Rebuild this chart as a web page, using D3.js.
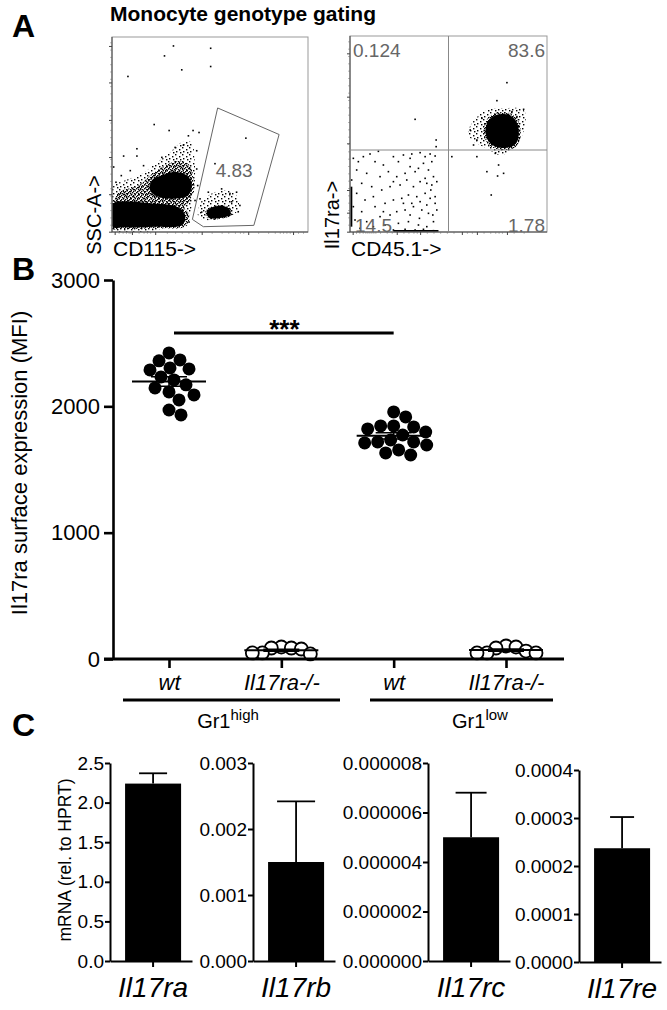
<!DOCTYPE html>
<html lang="en">
<head>
<meta charset="UTF-8">
<title>Il17ra on monocytes</title>
<style>
body { margin: 0; background: #fff; }
svg { display: block; font-family: "Liberation Sans", Arial, sans-serif; }
.flow-num { fill: #666; font-size: 19px; }
.panel { font-weight: bold; font-size: 32px; }
</style>
</head>
<body>
<svg width="667" height="1010"></svg>
<script src="https://d3js.org/d3.v7.min.js"></script>
<script>

// ---------- panel A data (arbitrary channel units, 0-590) ----------
var cd115Sparse = [[185,561],[158,531],[297,554],[210,489],[297,499],[48,469],[127,324],[172,306],[244,306],
    [403,283],[35,229],[75,251],[75,229],[5,196],[310,206],[380,61],[355,116],[360,91],[255,245],[230,290],[262,300],
    [12,150],[28,170],[55,185],[95,200],[150,225],[190,255],[215,262],[255,190],[258,140],[250,95],[232,30],
    [270,60],[265,100],[385,80],[375,120],[290,120],[330,130]];
var cd115CloudSparse = [
    [[2,136],[40,156],[90,176],[130,206],[170,236],[210,271],[240,271],[248,226],[250,166],[245,106],[238,66],[225,36],[2,6]],
    [[265,86],[300,116],[340,126],[375,111],[380,66],[350,46],[280,36],[260,46]]
];
var cd115CloudDense = [
    [[20,120],[80,140],[120,175],[160,200],[200,215],[235,200],[245,150],[235,95],[210,70],[100,80],[10,90]]
];
var cd115Core = [
    [[2,84],[60,91],[120,86],[180,81],[205,71],[220,51],[212,21],[130,16],[40,14],[2,16]],
    [[120,156],[150,171],[190,181],[225,171],[240,146],[230,111],[190,101],[140,106],[115,126]],
    [[285,61],[300,74],[330,79],[352,70],[357,53],[330,43],[292,43]]
];
var cd115Gate = [[318,374],[503,294],[427,20],[275,16],[242,38]];
var cd115GatePct = "4.83";

var cd45Sparse = [[470,448],[440,394],[520,368],[360,306],[370,261],[380,276],[305,226],[380,226],[410,181],
    [442,168],[460,176],[423,111],[445,201],[435,236],[485,361],[500,346],[395,341],[195,338],[258,276],[258,256],
    [10,221],[25,211],[40,226],[60,234],[85,242],[20,186],[50,176],[75,211],[100,201],[130,226],[145,211],[160,231],
    [185,234],[210,238],[225,226],[240,234],[255,228],[5,156],[35,146],[65,136],[90,166],[115,181],[140,166],
    [165,176],[180,196],[195,181],[220,206],[235,186],[250,166],[20,116],[45,96],[70,106],[95,126],[120,136],
    [150,141],[170,156],[190,136],[210,151],[230,146],[245,141],[260,151],[10,76],[35,61],[75,76],[105,86],
    [130,96],[155,101],[175,111],[200,106],[225,116],[240,101],[255,86],[15,36],[50,31],[90,46],[120,51],
    [140,61],[165,66],[190,76],[215,66],[235,56],[260,66],[30,11],[70,16],[105,21],[145,26],[175,31],[205,21],
    [230,16],[250,31],[130,6],[165,8],[195,6],[220,8],[250,4],[180,221],[205,191],[225,161],[242,126],[185,86],
    [210,91],[160,86],[245,211],[130,151],[100,61],[180,51],[230,81],[255,106],[208,41],[248,51]];
var cd45CloudSparse = [
    [[355,306],[400,361],[460,371],[520,366],[525,326],[500,261],[450,231],[410,251],[365,276]]
];
var cd45Core = [
    [[414,333],[440,352],[478,350],[500,328],[505,288],[492,260],[455,252],[422,264],[406,296]]
];
var cd45Streaks = [[[130,3],[265,3]], [[4,16],[4,136]]];
var cd45Split = [295, 246];
var cd45Pct = ["0.124", "83.6", "14.5", "1.78"];

// ---------- panel B data (MFI) ----------
var bKeys = ["hiWt", "hiKo", "loWt", "loKo"];
var bTickLabels = ["wt", "Il17ra-/-", "wt", "Il17ra-/-"];
var bGr1HighWt = [2423,2360,2367,2296,2304,2288,2233,2170,2146,2209,2114,2090,2051,1971,1932];
var bGr1HighKo = [79,87,95,87,48,40,48];
var bGr1LowWt = [1956,1916,1845,1837,1821,1845,1797,1718,1710,1734,1718,1773,1655,1631,1615,1694];
var bGr1LowKo = [63,95,103,87,48,48,48];
var bYTicks = [0, 1000, 2000, 3000];
var bGroupNames = ["high", "low"];

// ---------- panel C data (mRNA rel. to HPRT) ----------
var cGenes = ["Il17ra", "Il17rb", "Il17rc", "Il17re"];
var cMeans = [2.24, 0.0015, 0.0000050, 0.000237];
var cErrs = [0.13, 0.00092, 0.0000018, 0.000065];
var cMax = [2.5, 0.003, 0.000008, 0.0004];
var cStep = [0.5, 0.001, 0.000002, 0.0001];
var cDecimals = [1, 3, 6, 4];

var svg = d3.select("svg");
var defs = svg.append("defs");

function stipple(id, size, dots) {
    var p = defs.append("pattern").attr("id", id).attr("width", size).attr("height", size)
        .attr("patternUnits", "userSpaceOnUse");
    dots.forEach(function(d) {
        p.append("rect").attr("x", d[0]).attr("y", d[1]).attr("width", 1.4).attr("height", 1.4).attr("fill", "#000");
    });
}
stipple("stipSparse", 7, [[0,0],[4,2],[1,4],[5,5]]);
stipple("stipDense", 4, [[0,0],[2,1],[1,3],[3,2]]);

// ---------- panel A ----------
function grow(poly, k) {
    var cx = d3.mean(poly, function(p) { return p[0]; }), cy = d3.mean(poly, function(p) { return p[1]; });
    return poly.map(function(p) { return [cx + (p[0] - cx) * k, cy + (p[1] - cy) * k]; });
}

function flowPlot(box, data) {
    var x = d3.scaleLinear().domain([0, 590]).range([box.x0, box.x1]);
    var y = d3.scaleLinear().domain([0, 588]).range([box.y1, box.y0]);
    var g = svg.append("g");
    var clipId = "clip" + box.x0;
    defs.append("clipPath").attr("id", clipId).append("rect")
        .attr("x", box.x0).attr("y", box.y0).attr("width", box.x1 - box.x0).attr("height", box.y1 - box.y0);

    var blob = d3.line().x(function(d) { return x(d[0]); }).y(function(d) { return y(d[1]); })
        .curve(d3.curveCatmullRomClosed.alpha(0.5));
    var inner = g.append("g").attr("clip-path", "url(#" + clipId + ")");

    (data.sparseClouds || []).forEach(function(c) {
        inner.append("path").attr("d", blob(c)).attr("fill", "url(#stipSparse)");
    });
    (data.denseClouds || []).forEach(function(c) {
        inner.append("path").attr("d", blob(c)).attr("fill", "url(#stipDense)");
    });
    data.cores.forEach(function(c) {
        inner.append("path").attr("d", blob(grow(c, 1.12))).attr("fill", "url(#stipDense)");
        inner.append("path").attr("d", blob(c)).attr("fill", "#000");
    });
    (data.streaks || []).forEach(function(s) {
        inner.append("line").attr("x1", x(s[0][0])).attr("y1", y(s[0][1]))
            .attr("x2", x(s[1][0])).attr("y2", y(s[1][1])).attr("stroke", "#000").attr("stroke-width", 2);
    });
    inner.selectAll(".ev").data(data.sparse).enter().append("rect")
        .attr("x", function(d) { return x(d[0]) - 0.8; })
        .attr("y", function(d) { return y(d[1]) - 0.8; })
        .attr("width", 1.6).attr("height", 1.6).attr("fill", "#000");

    // frame + axes
    g.append("rect").attr("x", box.x0).attr("y", box.y0).attr("width", box.x1 - box.x0)
        .attr("height", box.y1 - box.y0).attr("fill", "none").attr("stroke", "#999");
    g.append("line").attr("x1", box.x0).attr("x2", box.x0).attr("y1", box.y0).attr("y2", box.y1).attr("stroke", "#444");
    g.append("line").attr("x1", box.x0).attr("x2", box.x1).attr("y1", box.y1).attr("y2", box.y1).attr("stroke", "#444");

    var yAx = d3.axisLeft(y).tickValues(data.yTicks).tickSize(3).tickFormat("").tickSizeOuter(0);
    g.append("g").attr("transform", "translate(" + box.x0 + ",0)").call(yAx)
        .call(function(a) { a.select(".domain").remove(); a.selectAll("line").attr("stroke", "#444"); });
    var yMinor = d3.axisLeft(y).tickValues(d3.range(0, 588, 22)).tickSize(1.5).tickFormat("").tickSizeOuter(0);
    g.append("g").attr("transform", "translate(" + box.x0 + ",0)").call(yMinor)
        .call(function(a) { a.select(".domain").remove(); a.selectAll("line").attr("stroke", "#777"); });
    var xAx = d3.axisBottom(x).tickValues(data.xTicks).tickSize(3).tickFormat("").tickSizeOuter(0);
    g.append("g").attr("transform", "translate(0," + box.y1 + ")").call(xAx)
        .call(function(a) { a.select(".domain").remove(); a.selectAll("line").attr("stroke", "#444"); });
    var xMinor = d3.axisBottom(x).tickValues(data.xMinor).tickSize(1.5).tickFormat("").tickSizeOuter(0);
    g.append("g").attr("transform", "translate(0," + box.y1 + ")").call(xMinor)
        .call(function(a) { a.select(".domain").remove(); a.selectAll("line").attr("stroke", "#777"); });

    g.append("text").attr("x", box.x0 + 1).attr("y", box.y1 + 24).attr("font-size", 21).text(data.xLabel);
    g.append("text").attr("transform", "translate(" + (box.x0 - 11) + "," + (box.y1 - 17) + ") rotate(-90)")
        .attr("text-anchor", "middle").attr("font-size", 20).text(data.yLabel);
    return {x: x, y: y, g: g};
}

svg.append("text").attr("class", "panel").attr("x", 12).attr("y", 37).text("A");
svg.append("text").attr("x", 110).attr("y", 21).attr("font-weight", "bold").attr("font-size", 21)
    .text("Monocyte genotype gating");

var left = flowPlot({x0: 112, x1: 308, y0: 37, y1: 232}, {
    sparse: cd115Sparse, sparseClouds: cd115CloudSparse, denseClouds: cd115CloudDense, cores: cd115Core,
    yTicks: [1,114,226,338,451,561],
    xTicks: [8,60,130,270,410,545],
    xMinor: [20,32,42,50,55,80,95,105,115,165,190,210,230,245,255,300,330,350,370,385,395,440,470,490,505,515,525,535,560,575],
    xLabel: "CD115->", yLabel: "SSC-A->"
});
var gateLine = d3.line().x(function(d) { return left.x(d[0]); }).y(function(d) { return left.y(d[1]); })
    .curve(d3.curveLinearClosed);
left.g.append("path").attr("d", gateLine(cd115Gate)).attr("fill", "none").attr("stroke", "#666").attr("stroke-width", 1);
left.g.append("text").attr("class", "flow-num").attr("x", left.x(312)).attr("y", left.y(165)).text(cd115GatePct);

var right = flowPlot({x0: 350, x1: 547, y0: 36, y1: 232}, {
    sparse: cd45Sparse, sparseClouds: cd45CloudSparse, cores: cd45Core, streaks: cd45Streaks,
    yTicks: [1,58,126,266,406,536],
    xTicks: [8,140,210,335,380,470],
    xMinor: [18,28,38,46,52,58,64,70,76,90,110,125,160,175,190,200,230,250,270,290,310,350,365,400,420,435,445,455,490,520],
    xLabel: "CD45.1->", yLabel: "Il17ra->"
});
right.g.append("line").attr("x1", right.x(cd45Split[0])).attr("x2", right.x(cd45Split[0]))
    .attr("y1", 36).attr("y2", 232).attr("stroke", "#888");
right.g.append("line").attr("x1", 350).attr("x2", 547)
    .attr("y1", right.y(cd45Split[1])).attr("y2", right.y(cd45Split[1])).attr("stroke", "#888");
right.g.append("text").attr("class", "flow-num").attr("x", 353).attr("y", 57).text(cd45Pct[0]);
right.g.append("text").attr("class", "flow-num").attr("x", 545).attr("y", 57).attr("text-anchor", "end").text(cd45Pct[1]);
right.g.append("text").attr("class", "flow-num").attr("x", 355).attr("y", 232).text(cd45Pct[2]);
right.g.append("text").attr("class", "flow-num").attr("x", 545).attr("y", 232).attr("text-anchor", "end").text(cd45Pct[3]);

// ---------- panel B ----------
svg.append("text").attr("class", "panel").attr("x", 12).attr("y", 280).text("B");

var yB = d3.scaleLinear().domain([0, 3000]).range([659, 280]);
var xB = d3.scalePoint().domain(bKeys).range([169, 506]);
var gB = svg.append("g");

var dotR = 6.5;
function swarm(values, sep) {
    var placed = [];
    values.map(function(v) { return {v: v, py: yB(v)}; })
        .sort(function(a, b) { return a.py - b.py; })
        .forEach(function(d) {
            for (var k = 0; k < 200; k++) {
                var dx = (k % 2 ? 1 : -1) * Math.ceil(k / 2);
                var ok = placed.every(function(p) {
                    return (dx - p.dx) * (dx - p.dx) + (d.py - p.py) * (d.py - p.py) >= sep * sep;
                });
                if (ok) { d.dx = dx; break; }
            }
            placed.push(d);
        });
    return placed;
}

var bSeries = [
    {key: "hiWt", vals: bGr1HighWt, open: false},
    {key: "hiKo", vals: bGr1HighKo, open: true},
    {key: "loWt", vals: bGr1LowWt, open: false},
    {key: "loKo", vals: bGr1LowKo, open: true}
];
bSeries.forEach(function(s) {
    var pts = swarm(s.vals, s.open ? 10 : 12.5);
    gB.selectAll(".d-" + s.key).data(pts).enter().append("circle")
        .attr("cx", function(d) { return xB(s.key) + d.dx; })
        .attr("cy", function(d) { return d.py; })
        .attr("r", dotR)
        .attr("fill", s.open ? "#fff" : "#000")
        .attr("stroke", "#000").attr("stroke-width", s.open ? 1.8 : 0);
    var m = d3.mean(s.vals);
    var sem = d3.deviation(s.vals) / Math.sqrt(s.vals.length);
    var cx = xB(s.key);
    gB.append("line").attr("x1", cx - 37).attr("x2", cx + 37)
        .attr("y1", yB(m)).attr("y2", yB(m)).attr("stroke", "#000").attr("stroke-width", 2);
    [m - sem, m + sem].forEach(function(v) {
        gB.append("line").attr("x1", cx - 18).attr("x2", cx + 18)
            .attr("y1", yB(v)).attr("y2", yB(v)).attr("stroke", "#000").attr("stroke-width", 1.5);
    });
    gB.append("line").attr("x1", cx).attr("x2", cx)
        .attr("y1", yB(m - sem)).attr("y2", yB(m + sem)).attr("stroke", "#000").attr("stroke-width", 1.5);
});

gB.append("g").attr("transform", "translate(113,0)")
    .call(d3.axisLeft(yB).tickValues(bYTicks).tickSize(9).tickPadding(4).tickSizeOuter(0).tickFormat(d3.format("d")))
    .call(function(a) {
        a.select(".domain").attr("stroke-width", 2.6);
        a.selectAll(".tick line").attr("stroke-width", 2.6);
        a.selectAll("text").attr("font-size", 22).attr("font-family", "Liberation Sans, Arial, sans-serif");
    });
gB.append("line").attr("x1", 104).attr("x2", 564).attr("y1", yB(0)).attr("y2", yB(0))
    .attr("stroke", "#000").attr("stroke-width", 3);
gB.append("g").attr("transform", "translate(0," + yB(0) + ")")
    .call(d3.axisBottom(xB).tickSize(9).tickSizeOuter(0).tickPadding(6)
        .tickFormat(function(d, i) { return bTickLabels[i]; }))
    .call(function(a) {
        a.select(".domain").remove();
        a.selectAll(".tick line").attr("stroke-width", 2.6);
        a.selectAll("text").attr("font-size", 22).attr("font-style", "italic")
            .attr("font-family", "Liberation Sans, Arial, sans-serif");
    });

// group bars under the axis
var bGroupSpans = [[123, 340], [370, 553]];
var bGroupLabelX = [228, 480];
bGroupSpans.forEach(function(sp, i) {
    gB.append("line").attr("x1", sp[0]).attr("x2", sp[1]).attr("y1", 700).attr("y2", 700)
        .attr("stroke", "#000").attr("stroke-width", 3);
    var t = gB.append("text").attr("x", bGroupLabelX[i]).attr("y", 728)
        .attr("text-anchor", "middle").attr("font-size", 20);
    t.append("tspan").text("Gr1");
    t.append("tspan").attr("font-size", 15).attr("dy", -8).text(bGroupNames[i]);
});

// significance
gB.append("line").attr("x1", xB("hiWt") + 5).attr("x2", xB("loWt")).attr("y1", 333).attr("y2", 333)
    .attr("stroke", "#000").attr("stroke-width", 3);
gB.append("text").attr("x", (xB("hiWt") + xB("loWt")) / 2 + 3).attr("y", 338).attr("text-anchor", "middle")
    .attr("font-size", 26).attr("font-weight", "bold").text("***");

gB.append("text").attr("transform", "translate(27,463) rotate(-90)")
    .attr("text-anchor", "middle").attr("font-size", 22).text("Il17ra surface expression (MFI)");

// ---------- panel C ----------
svg.append("text").attr("class", "panel").attr("x", 12).attr("y", 736).text("C");

var cLayout = [
    {ax: 110, top: 763, bot: 961, cap: 28},
    {ax: 253, top: 763, bot: 961, cap: 38},
    {ax: 428, top: 763, bot: 961, cap: 31},
    {ax: 579, top: 770, bot: 962, cap: 24}
];
cGenes.forEach(function(gene, i) {
    var L = cLayout[i];
    var g = svg.append("g");
    var y = d3.scaleLinear().domain([0, cMax[i]]).range([L.bot, L.top]);
    var x = d3.scaleBand().domain([gene]).range([L.ax, L.ax + 82]).paddingInner(0).paddingOuter(0.232).align(0.58);
    var cx = x(gene) + x.bandwidth() / 2;

    g.append("rect").attr("x", x(gene)).attr("width", x.bandwidth())
        .attr("y", y(cMeans[i])).attr("height", y(0) - y(cMeans[i])).attr("fill", "#000");
    g.append("line").attr("x1", cx).attr("x2", cx).attr("y1", y(cMeans[i])).attr("y2", y(cMeans[i] + cErrs[i]))
        .attr("stroke", "#000").attr("stroke-width", 1.8);
    g.append("line").attr("x1", cx - L.cap / 2).attr("x2", cx + L.cap / 2)
        .attr("y1", y(cMeans[i] + cErrs[i])).attr("y2", y(cMeans[i] + cErrs[i]))
        .attr("stroke", "#000").attr("stroke-width", 1.8);

    var ticks = d3.range(0, cMax[i] + cStep[i] / 2, cStep[i]);
    g.append("g").attr("transform", "translate(" + L.ax + ",0)")
        .call(d3.axisLeft(y).tickValues(ticks).tickSize(5).tickPadding(1).tickSizeOuter(0)
            .tickFormat(d3.format("." + cDecimals[i] + "f")))
        .call(function(a) {
            a.select(".domain").attr("stroke-width", 2);
            a.selectAll(".tick line").attr("stroke-width", 2);
            a.selectAll("text").attr("font-size", 19).attr("font-family", "Liberation Sans, Arial, sans-serif");
        });
    g.append("g").attr("transform", "translate(0," + L.bot + ")")
        .call(d3.axisBottom(x).tickSize(6).tickSizeOuter(0).tickPadding(10))
        .call(function(a) {
            a.select(".domain").attr("stroke-width", 2);
            a.selectAll(".tick line").attr("stroke-width", 2);
            a.selectAll("text").attr("font-size", 28).attr("font-style", "italic")
                .attr("font-family", "Liberation Sans, Arial, sans-serif");
        });
});

svg.append("text").attr("transform", "translate(71,860) rotate(-90)").attr("text-anchor", "middle")
    .attr("font-size", 17.5).text("mRNA (rel. to HPRT)");

</script>
</body>
</html>
